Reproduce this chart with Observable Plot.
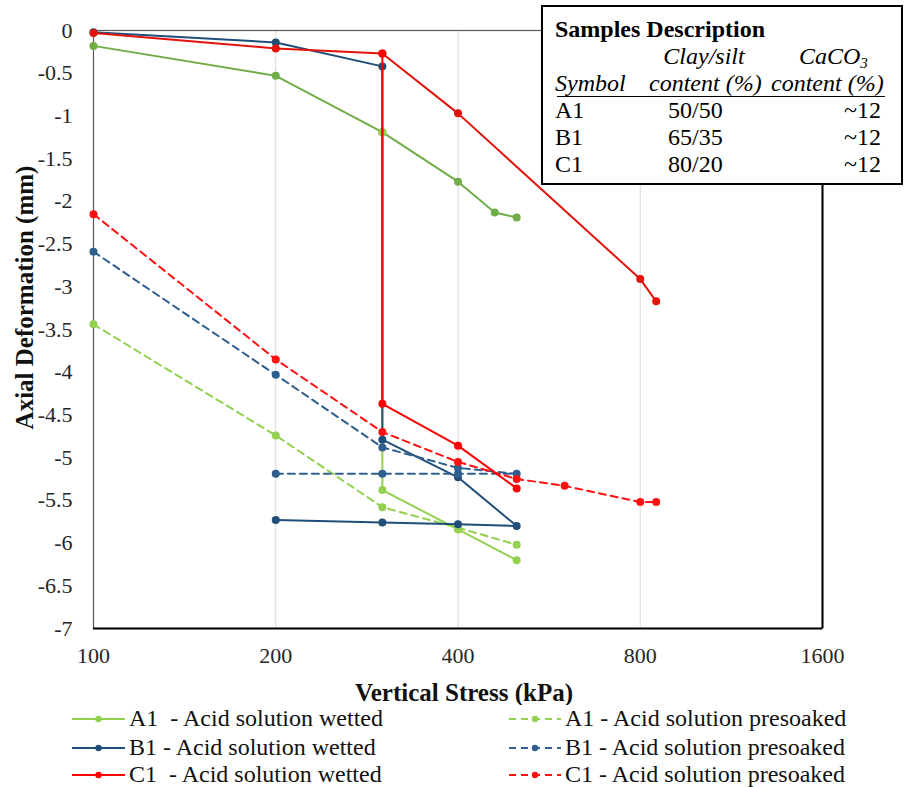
<!DOCTYPE html>
<html><head><meta charset="utf-8">
<script src="https://cdn.jsdelivr.net/npm/d3@7"></script>
<script src="https://cdn.jsdelivr.net/npm/@observablehq/plot@0.6"></script>
<style>
body{margin:0;background:#fff;font-family:"Liberation Serif","Times New Roman",serif;color:#000;}
#wrap{position:relative;width:905px;height:787px;overflow:hidden;}
#chart svg{display:block;}
#chart svg text{font-family:"Liberation Serif","Times New Roman",serif;}
#desc{position:absolute;left:541px;top:5px;width:358px;height:176px;border:2.5px solid #000;background:#fff;font-size:24px;}
#desc div{position:absolute;white-space:nowrap;line-height:26px;height:26px;}
#desc .uline{position:absolute;left:14px;width:328px;top:89px;height:0;border-top:1.5px solid #000;}
#desc sub{font-size:15px;vertical-align:-4px;line-height:0;}
#legend{position:absolute;left:0;top:705px;width:905px;}
.li{position:absolute;display:flex;align-items:center;font-size:24px;height:27px;line-height:27px;white-space:pre;color:#111;}
.li svg{margin-right:4px;}
</style></head><body>
<div id="wrap"><div id="chart"></div><div id="legend"></div><div id="desc"></div></div>
<script>
// ---- data (vertical stress kPa, axial deformation mm) ----
const a1DryStress = [100, 200, 300, 400, 460, 500];
const a1DryDef    = [-0.18, -0.53, -1.19, -1.77, -2.13, -2.19];
const a1WetStress = [300, 300, 400, 500];
const a1WetDef    = [-1.19, -5.38, -5.84, -6.2];
const a1PreStress = [100, 200, 300, 400, 500];
const a1PreDef    = [-3.44, -4.74, -5.58, -5.82, -6.02];

const b1WetStress = [100, 200, 300, 300, 400, 500, 400, 300, 200];
const b1WetDef    = [-0.02, -0.14, -0.42, -4.79, -5.23, -5.8, -5.78, -5.76, -5.73];
const b1PreStress = [100, 200, 300, 400, 500, 400, 300, 200];
const b1PreDef    = [-2.59, -4.03, -4.88, -5.12, -5.19, -5.19, -5.19, -5.19];

const c1DryStress = [100, 200, 300, 400, 800, 850];
const c1DryDef    = [-0.03, -0.21, -0.27, -0.97, -2.91, -3.17];
const c1WetStress = [300, 300, 400, 500];
const c1WetDef    = [-0.27, -4.37, -4.86, -5.36];
const c1PreStress = [100, 200, 300, 400, 500, 600, 800, 850];
const c1PreDef    = [-2.15, -3.85, -4.7, -5.05, -5.25, -5.33, -5.52, -5.52];

const xTicks = [100, 200, 400, 800, 1600];
const yTicks = [0, -0.5, -1, -1.5, -2, -2.5, -3, -3.5, -4, -4.5, -5, -5.5, -6, -6.5, -7];
const gridStress = [200, 400, 800];
const xTitle = "Vertical Stress (kPa)";
const yTitle = "Axial Deformation (mm)";

const legendLabels = ["A1  - Acid solution wetted", "A1 - Acid solution presoaked",
  "B1 - Acid solution wetted", "B1 - Acid solution presoaked",
  "C1  - Acid solution wetted", "C1 - Acid solution presoaked"];
const legendColors = ["#92D050", "#92D050", "#1F4E79", "#2E5F8F", "#FF0000", "#FF1010"];
const legendDashed = [false, true, false, true, false, true];

const sampleSymbols = ["A1", "B1", "C1"];
const claySilt = ["50/50", "65/35", "80/20"];
const caco3 = ["~12", "~12", "~12"];

// ---- series definitions (draw order: later on top) ----
const series = [
  {x: a1DryStress, y: a1DryDef, color: "#70AD47", dash: null},
  {x: a1WetStress, y: a1WetDef, color: "#92D050", dash: null},
  {x: a1PreStress, y: a1PreDef, color: "#92D050", dash: "7,5"},
  {x: b1WetStress, y: b1WetDef, color: "#1F4E79", dash: null},
  {x: b1PreStress, y: b1PreDef, color: "#2E5F8F", dash: "7,5"},
  {x: c1DryStress, y: c1DryDef, color: "#E3120B", dash: null},
  {x: c1PreStress, y: c1PreDef, color: "#FF1010", dash: "7,5"},
  {x: c1WetStress, y: c1WetDef, color: "#FF0000", dash: null}
];
const rows = s => s.x.map((v, i) => ({stress: v, def: s.y[i]}));

const marks = [
  Plot.ruleX(gridStress, {stroke: "#d9d9d9", strokeWidth: 1}),
  Plot.frame({stroke: "#595959", strokeWidth: 1.2}),
  Plot.ruleY([-7], {stroke: "#000", strokeWidth: 2}),
  Plot.ruleX([1600], {stroke: "#000", strokeWidth: 2}),
  Plot.axisX({ticks: xTicks, tickFormat: d => String(d), tickSize: 0, tickPadding: 19,
    label: null, fill: "#262626", fontSize: 22}),
  Plot.axisY({ticks: yTicks, tickFormat: d => String(d), tickSize: 0, tickPadding: 21,
    label: null, fill: "#262626", fontSize: 22}),
  Plot.text([xTitle], {text: d => d, frameAnchor: "bottom", dy: 64, dx: 6,
    textAnchor: "middle", lineAnchor: "middle",
    fontWeight: "bold", fontSize: 25, fill: "#111"}),
  Plot.text([yTitle], {text: d => d, frameAnchor: "left", dx: -69, dy: -32, rotate: -90,
    textAnchor: "middle", lineAnchor: "middle",
    fontWeight: "bold", fontSize: 25, fill: "#111"})
];
for (const s of series) {
  marks.push(Plot.line(rows(s), {x: "stress", y: "def", stroke: s.color, strokeWidth: 2,
    strokeDasharray: s.dash || undefined, curve: "linear"}));
  marks.push(Plot.dot(rows(s), {x: "stress", y: "def", fill: s.color, r: 4, stroke: "none"}));
}

const chart = Plot.plot({
  width: 905, height: 705,
  marginLeft: 93, marginRight: 83, marginTop: 30, marginBottom: 77,
  style: {fontFamily: "'Liberation Serif','Times New Roman',serif", fontSize: "22px", background: "#fff", color: "#222"},
  x: {type: "log", base: 2, domain: [100, 1600]},
  y: {domain: [-7, 0]},
  marks
});
document.getElementById("chart").appendChild(chart);

// ---- legend ----
const leg = document.getElementById("legend");
const lx = [72, 509], ly = [0, 29, 56];
legendLabels.forEach((lab, i) => {
  const col = i % 2, row = Math.floor(i / 2);
  const d = document.createElement("div");
  d.className = "li";
  d.style.left = lx[col] + "px";
  d.style.top = ly[row] + "px";
  const w = col === 0 ? 53 : 52;
  d.innerHTML = `<svg width="${w}" height="10"><line x1="0" y1="5" x2="${w}" y2="5" stroke="${legendColors[i]}" stroke-width="2" ${legendDashed[i] ? 'stroke-dasharray="7,5"' : ''}/><circle cx="${w/2}" cy="5" r="3.2" fill="${legendColors[i]}"/></svg><span>${lab}</span>`;
  leg.appendChild(d);
});

// ---- samples description box ----
const desc = document.getElementById("desc");
let html = `<div style="left:12px;top:9px;font-weight:bold">Samples Description</div>`;
html += `<div style="left:126px;width:70px;top:36px;display:flex;justify-content:center"><i>Clay/silt</i></div>`;
html += `<div style="left:256px;top:36px"><i>CaCO<sub>3</sub></i></div>`;
html += `<div style="left:12px;top:63px"><i>Symbol</i></div>`;
html += `<div style="left:106px;top:63px"><i>content (%)</i></div>`;
html += `<div style="left:228px;top:63px"><i>content (%)</i></div>`;
html += `<div class="uline"></div>`;
sampleSymbols.forEach((s, i) => {
  const top = 90 + i * 27;
  html += `<div style="left:12px;top:${top}px">${s}</div>`;
  html += `<div style="left:125px;top:${top}px">${claySilt[i]}</div>`;
  html += `<div style="right:20px;top:${top}px">${caco3[i]}</div>`;
});
desc.innerHTML = html;
</script>
</body></html>
